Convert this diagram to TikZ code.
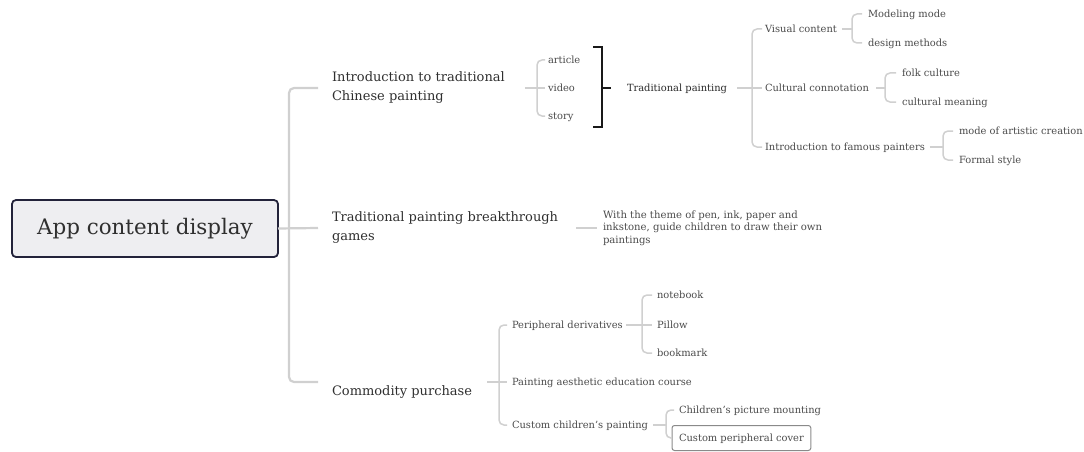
\documentclass[tikz,border=0pt]{standalone}
\usepackage{fontspec}
\setmainfont{DejaVu Serif}
\definecolor{maintxt}{HTML}{2F2F2F}
\definecolor{subtxt}{HTML}{4A4A4A}
\definecolor{tpdark}{HTML}{2A2A2A}
\definecolor{lineg}{HTML}{D0D0D0}
\definecolor{rootfill}{HTML}{EEEEF1}
\definecolor{rootborder}{HTML}{22223A}
\definecolor{boxborder}{HTML}{8A8A8A}
\begin{document}
\begin{tikzpicture}[x=1pt,y=-1pt,
  every node/.style={inner sep=0pt, outer sep=0pt},
  main/.style={anchor=west, align=left, text=maintxt, font=\fontsize{13}{19}\selectfont},
  sub/.style={anchor=west, text=subtxt, font=\fontsize{9.9}{12}\selectfont, text height=0.9em, text depth=0.2em},
  trunk/.style={draw=lineg, line width=2.2pt, rounded corners=5pt},
  conn/.style={draw=lineg, line width=1.5pt, rounded corners=5pt},
  bracket/.style={draw=black!90, line width=1.8pt},
]
\useasboundingbox (0,0) rectangle (1084,452);

% root
\node[draw=rootborder, line width=1.8pt, fill=rootfill, rounded corners=4pt,
      minimum width=266pt, minimum height=57pt, text=maintxt,
      font=\fontsize{21.4}{24}\selectfont] (root) at (145,228.5) {App content display};

% main branches
\node[main] (intro) at (332,88) {Introduction to traditional\\Chinese painting};
\node[main] (tpb) at (332,228) {Traditional painting breakthrough\\games};
\node[main] (comm) at (332,392) {Commodity purchase};

% first branch
\node[sub] (article) at (548,60) {article};
\node[sub] (video) at (548,88) {video};
\node[sub] (story) at (548,116) {story};
\node[sub, text=tpdark] (tp) at (627,88) {Traditional painting};
\node[sub] (vc) at (765,29) {Visual content};
\node[sub] (cc) at (765,88) {Cultural connotation};
\node[sub] (ifp) at (765,147) {Introduction to famous painters};
\node[sub] (mm) at (868,14) {Modeling mode};
\node[sub] (dm) at (868,43) {design methods};
\node[sub] (fc) at (902,73) {folk culture};
\node[sub] (cm) at (902,102) {cultural meaning};
\node[sub] (mac) at (959,131) {mode of artistic creation};
\node[sub] (fs) at (959,160) {Formal style};

% second branch
\node[anchor=west, align=left, text=subtxt, font=\fontsize{10.1}{12.7}\selectfont] (desc) at (603,228)
  {With the theme of pen, ink, paper and\\inkstone, guide children to draw their own\\paintings};

% third branch
\node[sub] (pd) at (512,325) {Peripheral derivatives};
\node[sub] (pae) at (512,382) {Painting aesthetic education course};
\node[sub] (ccp) at (512,425) {Custom children's painting};
\node[sub] (nb) at (657,295) {notebook};
\node[sub] (pl) at (657,325) {Pillow};
\node[sub] (bm) at (657,353) {bookmark};
\node[sub] (cpm) at (679,410) {Children's picture mounting};
\node[sub, draw=boxborder, line width=1pt, rounded corners=2.5pt, inner xsep=7pt,
      minimum height=25pt] (cpc) at (672,438) {Custom peripheral cover};

% junctions
\coordinate (j0) at (289,228);
\coordinate (j1) at (537,88);
\coordinate (bt) at (602,47);
\coordinate (bb) at (602,127);
\coordinate (j2) at (752,88);
\coordinate (j3) at (852,29);
\coordinate (j4) at (885,88);
\coordinate (j5) at (943,147);
\coordinate (j6) at (499,382);
\coordinate (j7) at (642,325);
\coordinate (j8) at (666,425);

% connectors
\draw[trunk] (root.east) -- ([xshift=-14pt]tpb.west);
\draw[trunk] ([xshift=-14pt]intro.west) -| (j0) |- ([xshift=-14pt,yshift=10pt]comm.west);

\draw[conn] ([xshift=20pt]intro.east) -- ([xshift=-3pt]video.west);
\draw[conn] ([xshift=-3pt]article.west) -| (j1) |- ([xshift=-3pt]story.west);
\draw[bracket] ([xshift=-9pt]bt) -- (bt) -- (bb) -- ([xshift=-9pt]bb);
\draw[bracket] (bt |- tp.west) -- ([xshift=-16pt]tp.west);
\draw[conn] ([xshift=10pt]tp.east) -- ([xshift=-3pt]cc.west);
\draw[conn] ([xshift=-3pt]vc.west) -| (j2) |- ([xshift=-3pt]ifp.west);
\draw[conn] ([xshift=5pt]vc.east) -- (j3);
\draw[conn] ([xshift=-6pt]mm.west) -| (j3) |- ([xshift=-6pt]dm.west);
\draw[conn] ([xshift=7pt]cc.east) -- (j4);
\draw[conn] ([xshift=-6pt]fc.west) -| (j4) |- ([xshift=-6pt]cm.west);
\draw[conn] ([xshift=5pt]ifp.east) -- (j5);
\draw[conn] ([xshift=-6pt]mac.west) -| (j5) |- ([xshift=-6pt]fs.west);

\draw[conn] ([xshift=18pt]tpb.east) -- ([xshift=-6pt]desc.west);

\draw[conn] ([xshift=15pt,yshift=10pt]comm.east) -- (j6);
\draw[conn] ([xshift=-5pt]pd.west) -| (j6) |- ([xshift=-5pt]ccp.west);
\draw[conn] (j6) -- ([xshift=-5pt]pae.west);
\draw[conn] ([xshift=3pt]pd.east) -- ([xshift=-5pt]pl.west);
\draw[conn] ([xshift=-5pt]nb.west) -| (j7) |- ([xshift=-5pt]bm.west);
\draw[conn] ([xshift=5pt]ccp.east) -- (j8);
\draw[conn] ([xshift=-5pt]cpm.west) -| (j8) |- (cpc.west);
\end{tikzpicture}
\end{document}
